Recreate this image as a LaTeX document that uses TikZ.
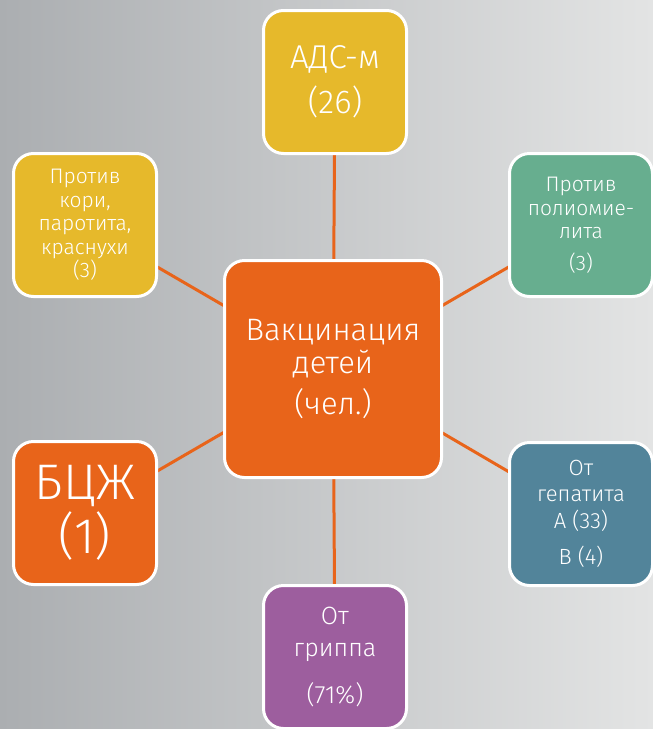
\documentclass[tikz,border=0pt]{standalone}
\usepackage{fontspec}
\setmainfont{Fira Sans Light}
\usetikzlibrary{backgrounds}
\definecolor{orng}{HTML}{E8641A}
\definecolor{yell}{HTML}{E6B92B}
\definecolor{grn}{HTML}{67AE8F}
\definecolor{blu}{HTML}{52849A}
\definecolor{purp}{HTML}{9D5E9E}
\definecolor{bgl}{HTML}{ABAEB1}
\definecolor{bgr}{HTML}{E3E4E4}

\begin{document}
\begin{tikzpicture}[x=1pt, y=-1pt,
        vbox/.style={rectangle, rounded corners=20pt, draw=white, line width=3pt,
            text=white, align=center, inner sep=0pt, minimum width=143pt, minimum height=143pt},
        link/.style={draw=orng, line width=3pt}]
            \clip (0,0) rectangle (653,729);
            \node[vbox, fill=orng, minimum size=217pt, font=\fontsize{31}{33}\selectfont] (mid) at (333,369) {Вакцинация\\детей\\[8pt](чел.)};
            \node[vbox, fill=yell, font=\fontsize{33}{45}\selectfont] (adsm) at (335,82) {АДС-м\\(26)};
            \node[vbox, fill=yell, font=\fontsize{21}{23.5}\selectfont] (kori) at (85,225) {Против\\кори,\\паротита,\\краснухи\\(3)};
            \node[vbox, fill=grn, font=\fontsize{21}{23.5}\selectfont] (polio) at (581,225) {Против\\полиомие-\\лита\\[8pt](3)};
            \node[vbox, fill=orng, font=\fontsize{50}{54}\selectfont] (bcg) at (85,513) {БЦЖ\\(1)};
            \node[vbox, fill=blu, font=\fontsize{22}{26.5}\selectfont] (hep) at (581,514) {От\\гепатита\\А (33)\\[10pt]В (4)};
            \node[vbox, fill=purp, font=\fontsize{25}{32}\selectfont] (gripp) at (335,657) {От\\гриппа\\[15pt](71\%)};
            \begin{scope}[on background layer]
                \shade[left color=bgl, right color=bgr] (0,0) rectangle (653,729);
                \foreach \n in {adsm,kori,polio,bcg,hep,gripp} {
                    \draw[link] (mid.center) -- (\n.center);
                };
            \end{scope}
        \end{tikzpicture}
\end{document}
